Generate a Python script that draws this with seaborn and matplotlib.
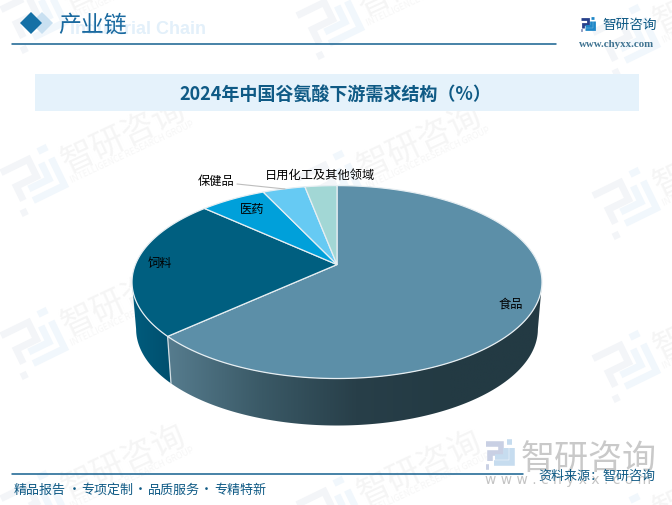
# -*- coding: utf-8 -*-
# 2024 glutamic acid downstream demand structure, drawn as a tilted 3D pie
import numpy as np
import matplotlib
matplotlib.use("Agg")
import matplotlib.pyplot as plt
from matplotlib.patches import Polygon, Rectangle
from matplotlib.transforms import Affine2D
from matplotlib.colors import to_rgb
import seaborn as sns

# data
categories = ["食品", "饲料", "医药", "保健品", "日用化工及其他领域"]
shares = [63.2, 23.6, 6.2, 4.0, 3.0]

# styles
slice_colors = ["#5c8fa8", "#005f80", "#00a0da", "#66caf3", "#a2d7d5"]
side_stops = {
    "食品": ["#567c8e", "#3a5966", "#283f49", "#233a43", "#233a43"],
    "饲料": ["#005c7d", "#004f6e"],
}
label_xy = [(511, 304), (160, 264), (252, 209), (216, 181), (320, 175)]

CX, CY = 337, 265.6    # apex of the pie on the page
A, B, K = 93.3, 201.6, -0.181  # perspective of the disc
DEPTH = 47
SHRINK = 0.98
DARK = "#0f5a85"

sns.set_theme(style="white")
plt.rcParams["font.family"] = ["Noto Sans CJK SC", "DejaVu Sans"]

fig = plt.figure(figsize=(6.72, 5.06), dpi=100)
ax = fig.add_axes([0, 0, 1, 1])
ax.set_xlim(0, 672)
ax.set_ylim(506, 0)
ax.axis("off")


def disc(theta):
    # theta in radians, clockwise from the back of the disc
    u, v = np.sin(theta), -np.cos(theta)
    w = 1 + K * v
    return CX + B * u / w, CY + A * v / w


def logo(x, y, size, rot, c1, c2, lw, z=1):
    tr = (Affine2D().translate(-0.5, -0.5).scale(size).rotate_deg(rot)
          .translate(x, y) + ax.transData)
    kw = dict(transform=tr, lw=lw, solid_capstyle="butt", solid_joinstyle="miter",
              zorder=z, clip_on=False)
    ax.plot([0.02, 0.56, 0.56, 0.16, 0.16], [0.10, 0.10, 0.44, 0.44, 0.72], color=c1, **kw)
    ax.plot([0.02, 0.14], [0.92, 0.92], color=c1, **kw)
    ax.plot([0.32, 0.94, 0.94], [0.80, 0.80, 0.26], color=c2, **kw)
    ax.plot([0.34, 0.74, 0.74], [0.58, 0.58, 0.26], color=c2, **kw)
    ax.plot([0.78, 0.96], [0.05, 0.05], color=c2, **kw)


# background watermark
for wx, wy0 in [(35, 19), (331, 25), (627, 42)]:
    for i in range(4):
        wy = wy0 + 163 * i
        logo(wx, wy, 56, -26, "#f3f5f8", "#f1f7fc", 5, z=1)
        ax.text(wx + 89, wy - 46, "智研咨询", fontsize=24, color="#f5f5f5", rotation=25,
                ha="center", va="center", rotation_mode="anchor", zorder=1, clip_on=True)
        ax.text(wx + 97, wy - 30, "INTELLIGENCE RESEARCH GROUP", fontsize=6.2, color="#f6f6f6",
                rotation=25, ha="center", va="center", rotation_mode="anchor", zorder=1,
                clip_on=True)

# header
ax.add_patch(Polygon([[42, 13], [53, 24], [42, 35], [31, 24]], fc="#c9e0f1", ec="none", zorder=2))
ax.add_patch(Polygon([[31, 13], [42, 24], [31, 35], [20, 24]], fc="#1570a6", ec="none", zorder=3))
ax.text(70, 29, "Industrial Chain", fontsize=13, fontweight="bold", color="#e3f0fa",
        family="Liberation Sans", va="center", zorder=2)
ax.text(58, 25.5, "产业链", fontsize=16.5, color="#1a6aa0", va="center", fontweight="medium", zorder=3)
ax.plot([12, 556], [45, 45], color="#15608f", lw=1.1, zorder=3)

logo(587.5, 25.5, 14, 0, "#27408b", "#1f87c8", 2.0, z=3)
ax.text(602, 25, "智研咨询", fontsize=9.8, color=DARK, va="center", zorder=3)
ax.text(617, 44, "www.chyxx.com", fontsize=7.8, color="#3f7391", family="Liberation Serif",
        fontweight="bold", ha="center", va="center", zorder=3)

# title band
ax.add_patch(Rectangle((35, 75), 604, 37, fc="#e5f2fb", ec="none", zorder=2))
ax.text(335, 94, "2024年中国谷氨酸下游需求结构（%）", fontsize=13, fontweight="bold",
        color=DARK, ha="center", va="center", zorder=3)

# side walls, only the front part of the rim shows
edges = np.radians(np.cumsum([0] + shares) * 3.6)
rim_from = np.arccos(K)
rim_to = 2 * np.pi - rim_from
for name, t0, t1 in zip(categories, edges[:-1], edges[1:]):
    lo, hi = max(t0, rim_from), min(t1, rim_to)
    if lo >= hi or name not in side_stops:
        continue
    t = np.linspace(lo, hi, 120)
    x, y = disc(t)
    xb = CX + (x - CX) * SHRINK
    yb = y + DEPTH
    pts = np.r_[np.c_[x, y], np.c_[xb, yb][::-1]]
    wall = Polygon(pts, fc="none", ec="none", zorder=4)
    ax.add_patch(wall)
    ramp = sns.blend_palette(side_stops[name], n_colors=256)
    grad = np.array([to_rgb(c) for c in ramp])[None, :, :]
    im = ax.imshow(grad, extent=[pts[:, 0].min(), pts[:, 0].max(), pts[:, 1].max(), pts[:, 1].min()],
                   aspect="auto", zorder=4, interpolation="bilinear")
    im.set_clip_path(wall)
    # seam between walls
    if t1 <= rim_to and t1 > rim_from:
        xe, ye = disc(t1)
        ax.plot([xe, CX + (xe - CX) * SHRINK], [ye, ye + DEPTH], color="#d5dfe4", lw=0.9, zorder=5)
ax.set_xlim(0, 672)
ax.set_ylim(506, 0)

# top of the pie
for color, t0, t1 in zip(slice_colors, edges[:-1], edges[1:]):
    t = np.linspace(t0, t1, 200)
    x, y = disc(t)
    pts = np.r_[[[CX, CY]], np.c_[x, y]]
    ax.add_patch(Polygon(pts, closed=True, fc=color, ec="#e6eef2", lw=0.9, zorder=6))

for name, (lx, ly) in zip(categories, label_xy):
    ax.text(lx, ly, name, fontsize=8.8, color="black", ha="center", va="center", zorder=8)
ax.plot([237, 285], [185, 190], color="#bdbdbd", lw=0.8, zorder=7)

# bottom right brand block
logo(499.5, 456, 28, 0, "#c9d0e4", "#c6dcef", 4, z=2)
ax.text(589, 460, "智研咨询", fontsize=24.5, color="#c9c9c9", ha="center", va="center", zorder=2)
ax.text(485, 480, "w w w . c h y x x . c o m", fontsize=10, color="#c4c4c4", family="DejaVu Sans",
        va="center", zorder=2)

# footer
ax.plot([12, 523], [475, 475], color="#15608f", lw=1.1, zorder=3)
ax.text(538, 476, "资料来源：智研咨询", fontsize=9.4, color=DARK, va="center", zorder=3)
for x0, word in zip([14, 81, 148, 214], ["精品报告", "专项定制", "品质服务", "专精特新"]):
    ax.text(x0, 490, word, fontsize=9.4, color=DARK, va="center", zorder=3)
for x0 in [74.5, 140, 206]:
    ax.text(x0, 489.5, "·", fontsize=9.4, color=DARK, ha="center", va="center", zorder=3)

fig.savefig("out.png", dpi=100)
